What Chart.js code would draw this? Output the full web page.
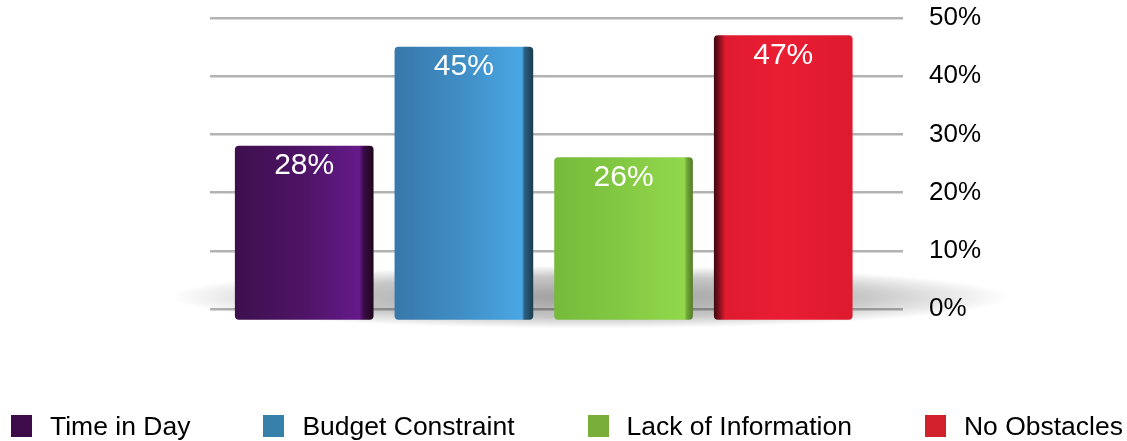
<!DOCTYPE html>
<html>
<head>
<meta charset="utf-8">
<script src="https://cdn.jsdelivr.net/npm/chart.js@4.4.1/dist/chart.umd.min.js"></script>
<style>
  html, body { margin: 0; padding: 0; background: #fff; }
  #wrap { position: relative; width: 1127px; height: 441px; }
  #legend {
    position: absolute; left: 0; top: 413px; width: 1127px; height: 26px;
    display: flex; justify-content: space-between; align-items: center;
    box-sizing: border-box; padding-left: 11px; padding-right: 4px;
    font-family: "Liberation Sans", Arial, Helvetica, sans-serif; font-size: 26.5px; color: #000;
  }
  .item { display: flex; align-items: center; white-space: nowrap; }
  .sw { width: 21px; height: 22px; margin-right: 18px; }
</style>
</head>
<body>
<div id="wrap">
  <canvas id="c" width="1127" height="441"></canvas>
  <div id="legend"></div>
</div>
<script>
const categories = ["Time in Day", "Budget Constraint", "Lack of Information", "No Obstacles"];
const values = [28, 45, 26, 47];
const yTicks = [0, 10, 20, 30, 40, 50];
const legendColors = ["#3d0b4a", "#3680a9", "#79ae3a", "#d1212d"];
// gradient stops per bar [offset, color]
const barGradients = [
  [[0, "#3e0f4e"], [0.5, "#4e1466"], [0.9, "#651a8a"], [0.93, "#3a0c48"], [1, "#22071c"]],
  [[0, "#3878aa"], [0.5, "#408fc6"], [0.92, "#4aa7e4"], [0.94, "#2a5f80"], [1, "#1b3d52"]],
  [[0, "#76ba3b"], [0.5, "#84c943"], [0.94, "#92d84b"], [0.96, "#6ea436"], [1, "#557f29"]],
  [[0, "#3e0a0f"], [0.04, "#8a1020"], [0.08, "#e01b2f"], [0.5, "#ea1d33"], [1, "#dd1a2e"]]
];

// legend (HTML, real text)
const lg = document.getElementById('legend');
categories.forEach((c, i) => {
  const it = document.createElement('div'); it.className = 'item';
  const sw = document.createElement('div'); sw.className = 'sw'; sw.style.background = legendColors[i];
  const tx = document.createElement('span'); tx.textContent = c;
  it.appendChild(sw); it.appendChild(tx); lg.appendChild(it);
});

const BAR_W = 138;

const floorShadow = {
  id: 'floorShadow',
  beforeDatasetsDraw(chart) {
    const ctx = chart.ctx;
    const y0 = chart.scales.y.getPixelForValue(0);
    ctx.save();
    ctx.translate(590, y0 - 12);
    ctx.scale(1, 0.075);
    const g = ctx.createRadialGradient(0, 0, 0, 0, 0, 420);
    g.addColorStop(0, "rgba(0,0,0,0.38)");
    g.addColorStop(0.65, "rgba(0,0,0,0.22)");
    g.addColorStop(1, "rgba(0,0,0,0)");
    ctx.fillStyle = g;
    ctx.beginPath(); ctx.arc(0, 0, 420, 0, Math.PI * 2); ctx.fill();
    ctx.restore();
    // shaded bar faces, built from each bar element's own position
    const meta = chart.getDatasetMeta(0);
    meta.data.forEach((bar, i) => {
      if (!isFinite(bar.x) || !bar.options) return;
      const w = bar.width;
      const lgd = ctx.createLinearGradient(bar.x - w / 2, 0, bar.x + w / 2, 0);
      barGradients[i].forEach(s => lgd.addColorStop(s[0], s[1]));
      bar.options.backgroundColor = lgd;
    });
  }
};

const valueLabels = {
  id: 'valueLabels',
  afterDatasetsDraw(chart) {
    const ctx = chart.ctx;
    const meta = chart.getDatasetMeta(0);
    ctx.save();
    ctx.fillStyle = "#ffffff";
    ctx.font = '30px "Liberation Sans", Arial, sans-serif';
    ctx.textAlign = 'center';
    ctx.textBaseline = 'middle';
    meta.data.forEach((bar, i) => {
      ctx.fillText(values[i] + "%", bar.x, bar.y + 20);
    });
    ctx.restore();
  }
};

new Chart(document.getElementById('c'), {
  type: 'bar',
  data: {
    datasets: [{
      label: 'Share',
      data: values.map((v, i) => ({ x: i, y: v })),
      base: -1.8,
      clip: false,
      barThickness: BAR_W,
      borderRadius: 4,
      borderSkipped: false,
      backgroundColor: legendColors
    }]
  },
  options: {
    responsive: false,
    animation: false,
    layout: { padding: { left: 210, top: 18, right: 0, bottom: 132 } },
    plugins: { legend: { display: false }, tooltip: { enabled: false } },
    scales: {
      x: {
        type: 'linear', min: -0.59, max: 3.75, display: false, offset: false,
        grid: { display: false }
      },
      y: {
        position: 'right', min: 0, max: 50,
        afterFit: (s) => { s.width = 224; },
        afterBuildTicks: (s) => { s.ticks = yTicks.map(v => ({ value: v })); },
        border: { display: false },
        grid: { color: "#b3b3b3", lineWidth: 2.5, drawTicks: true, tickLength: 26, tickColor: "rgba(0,0,0,0)" },
        ticks: {
          padding: 0,
          color: "#000",
          font: { family: '"Liberation Sans", Arial, sans-serif', size: 26 },
          callback: (v) => v + "%"
        }
      }
    }
  },
  plugins: [floorShadow, valueLabels]
});
</script>
</body>
</html>
